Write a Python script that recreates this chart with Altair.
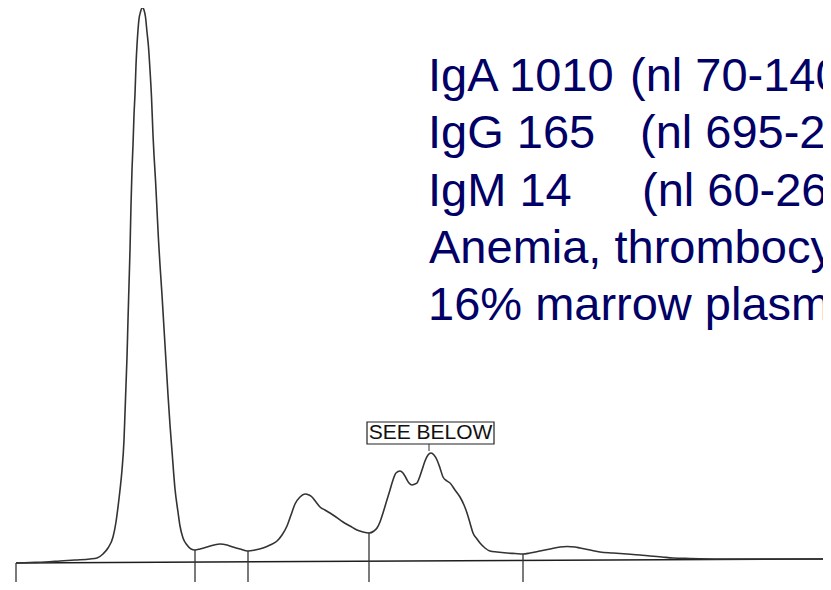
import altair as alt
import pandas as pd

# ---- densitometer trace (position along strip, density in arbitrary units) ----
trace_x = [16, 30, 45, 60, 75, 90, 97, 103, 108, 113, 116, 118, 120, 122, 124, 125, 126, 127,
           128, 129, 130, 131, 132, 133, 134, 135, 136, 137, 138, 139, 140.5, 142.3, 144, 145.5,
           147, 148.5, 150, 151.5, 153, 154, 155.5, 157, 158.5, 160, 162, 163.5, 165, 166.5, 168,
           170, 172, 175, 178, 180, 183, 187, 191, 195, 200, 207, 214, 220, 227, 233, 240, 248,
           255, 263, 270, 277, 282, 287, 291, 295, 300, 305, 309, 312, 316, 320, 325, 330, 336,
           343, 350, 357, 363, 369, 374, 377, 380, 383, 386, 390, 393, 396, 400, 403, 406, 409,
           412, 415, 417, 420, 422, 425, 428, 431, 434, 437, 440, 443, 447, 450, 455, 460, 464,
           467, 470, 473, 477, 480, 485, 490, 497, 507, 515, 523, 530, 540, 550, 560, 567, 575,
           580, 590, 600, 613, 627, 640, 650, 662, 673, 690, 720, 760, 800, 831]
trace_d = [27, 27.5, 28, 29, 30, 31, 32, 36, 42, 53, 68, 83, 100, 120, 150, 177, 205, 233,
           270, 305, 340, 385, 420, 445, 475, 496, 525, 545, 560, 571, 578, 582.5, 580, 573,
           558, 543, 520, 493, 455, 435, 410, 380, 350, 325, 295, 270, 245, 220, 195,
           165, 139, 101, 78, 64, 52, 45, 41, 40, 41, 43, 45, 46, 45, 43, 41, 39,
           40, 42, 45, 49, 55, 64, 75, 86, 93, 96, 95, 93, 88, 83, 80, 77, 73,
           68, 64, 60, 58, 57, 59, 62, 68, 77, 87, 100, 110, 117, 119, 117, 112, 107,
           105, 106, 107, 114, 120, 129, 135, 137, 135, 130, 122, 113, 109, 107, 100, 93, 85,
           77, 67, 57, 51, 47, 42, 39, 38, 37, 36.5, 36, 37, 39, 41, 43, 43.5, 43,
           42, 40, 38, 37, 36, 35, 34, 33, 32, 31.5, 31, 31, 31, 31]

# baseline of the scan (slightly tilted)
base_x = [16, 831]
base_d = [27, 31]

# fraction dividers: position, density where they meet the trace
div_x = [16, 195, 248, 369, 523]
div_top = [27, 40, 39, 57, 36]
div_bottom = [0, 0, 0, 0, 0]

# boxed label
label_text = ["SEE BELOW"]
label_x = [430.5]
label_y = [157]
box_x1, box_x2, box_y1, box_y2 = [367], [494], [146], [168]
tick_x, tick_y1, tick_y2 = [429], [146], [139]

# annotation text (left part / right part)
left_txt = ["IgA 1010", "IgG 165", "IgM 14", "Anemia, thrombocytopenia", "16% marrow plasma cells"]
right_txt = ["(nl 70-140", "(nl 695-2", "(nl 60-26", "", ""]
line_y = [499, 441.7, 384.3, 326.7, 270]
left_x = [428, 428, 428, 429, 428]
right_x = [630, 640, 642, 0, 0]

W, H = 815, 574
xs = alt.Scale(domain=[8, 8 + W], nice=False, zero=False)
ys = alt.Scale(domain=[590 - 8 - H, 582], nice=False, zero=False)
noaxis = None

trace_df = pd.DataFrame({"x": trace_x, "d": trace_d})
base_df = pd.DataFrame({"x": base_x, "d": base_d})
div_df = pd.DataFrame({"x": div_x, "top": div_top, "bottom": div_bottom})
box_df = pd.DataFrame({"x1": box_x1, "x2": box_x2, "y1": box_y1, "y2": box_y2})
tick_df = pd.DataFrame({"x": tick_x, "y1": tick_y1, "y2": tick_y2})
lab_df = pd.DataFrame({"t": label_text, "x": label_x, "y": label_y})
left_df = pd.DataFrame({"t": left_txt, "x": left_x, "y": line_y})
right_df = pd.DataFrame({"t": right_txt, "x": right_x, "y": line_y})
right_df = right_df[right_df["t"] != ""]

X = lambda f: alt.X(f, type="quantitative", scale=xs, axis=noaxis)
Y = lambda f: alt.Y(f, type="quantitative", scale=ys, axis=noaxis)

baseline = alt.Chart(base_df).mark_line(color="#1e1e1e", strokeWidth=1.5, clip=True).encode(
    x=X("x"), y=Y("d"))

trace = alt.Chart(trace_df).mark_line(color="#333333", strokeWidth=1.6, interpolate="monotone",
                                      clip=True).encode(x=X("x"), y=Y("d"))

dividers = alt.Chart(div_df).mark_rule(color="#333333", strokeWidth=1.3, clip=True).encode(
    x=X("x"), y=Y("top"), y2="bottom")

box = alt.Chart(box_df).mark_rect(fill="white", stroke="#222222", strokeWidth=1.2, clip=True).encode(
    x=X("x1"), x2="x2", y=Y("y1"), y2="y2")

tick = alt.Chart(tick_df).mark_rule(color="#333333", strokeWidth=1.0, clip=True).encode(
    x=X("x"), y=Y("y1"), y2="y2")

label = alt.Chart(lab_df).mark_text(font="Liberation Sans", fontSize=21, color="#111111",
                                    align="center", baseline="middle", clip=True).encode(
    x=X("x"), y=Y("y"), text="t:N")

left_text = alt.Chart(left_df).mark_text(font="Liberation Sans", fontSize=47, color="#000066",
                                         align="left", baseline="alphabetic", clip=True).encode(
    x=X("x"), y=Y("y"), text="t:N")

right_text = alt.Chart(right_df).mark_text(font="Liberation Sans", fontSize=47, color="#000066",
                                           align="left", baseline="alphabetic", clip=True).encode(
    x=X("x"), y=Y("y"), text="t:N")

chart = alt.layer(baseline, dividers, trace, box, tick, label, left_text, right_text).properties(
    width=W, height=H, padding=0, autosize=alt.AutoSizeParams(type="none"),
    background="white"
).configure_view(stroke=None)

chart.save("out.html", embed_options={"renderer": "svg", "actions": False})
